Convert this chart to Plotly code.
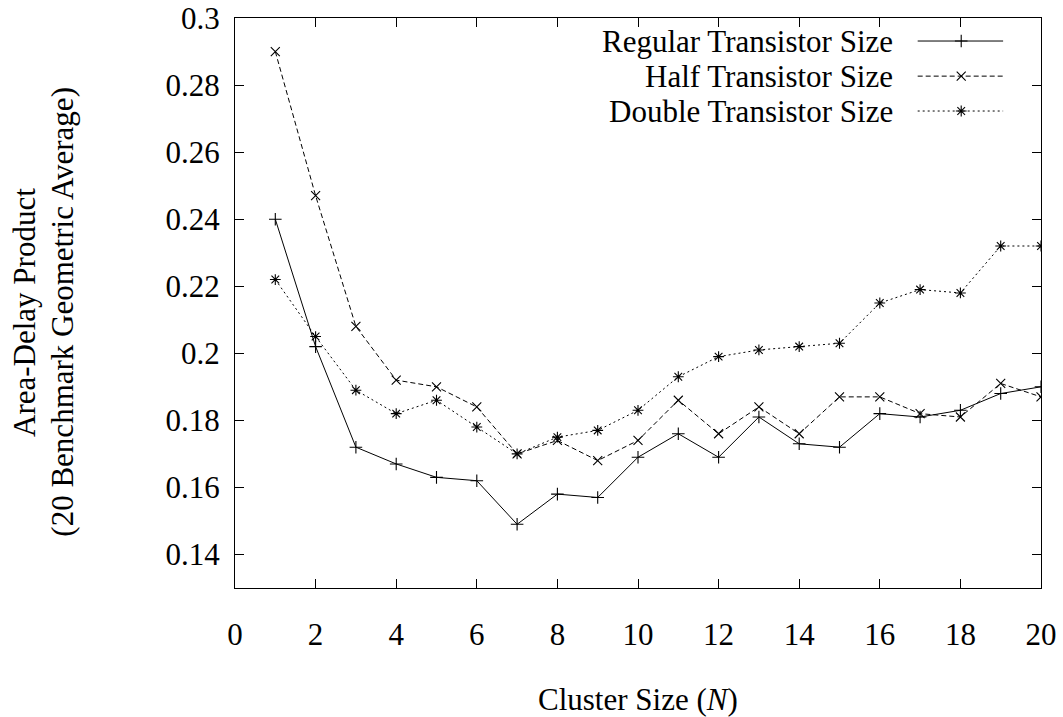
import plotly.graph_objects as go

# Cluster size N and area-delay product for each transistor sizing
cluster_size = list(range(1, 21))
regular = [0.240, 0.202, 0.172, 0.167, 0.163, 0.162, 0.149, 0.158, 0.157, 0.169,
           0.176, 0.169, 0.181, 0.173, 0.172, 0.182, 0.181, 0.183, 0.188, 0.190]
half = [0.290, 0.247, 0.208, 0.192, 0.190, 0.184, 0.170, 0.174, 0.168, 0.174,
        0.186, 0.176, 0.184, 0.176, 0.187, 0.187, 0.182, 0.181, 0.191, 0.187]
double = [0.222, 0.205, 0.189, 0.182, 0.186, 0.178, 0.170, 0.175, 0.177, 0.183,
          0.193, 0.199, 0.201, 0.202, 0.203, 0.215, 0.219, 0.218, 0.232, 0.232]

series_names = ["Regular Transistor Size", "Half Transistor Size", "Double Transistor Size"]
series_values = [regular, half, double]
dashes = ["solid", "5px,3px", "2px,3px"]
symbols = ["cross-thin", "x-thin", "asterisk"]

x_ticks = list(range(0, 21, 2))
y_ticks = [0.14, 0.16, 0.18, 0.2, 0.22, 0.24, 0.26, 0.28, 0.3]

y_title_lines = ["Area-Delay Product", "(20 Benchmark Geometric Average)"]

FONT = "Liberation Serif, Times New Roman, serif"
FS = 31
MARKER_SIZE = 9

fig = go.Figure()

for name, vals, dash, sym in zip(series_names, series_values, dashes, symbols):
    fig.add_trace(go.Scatter(
        x=cluster_size, y=vals, mode="lines+markers", name=name,
        line=dict(color="black", width=1, dash=dash),
        marker=dict(symbol=sym, size=MARKER_SIZE, color="black",
                    line=dict(color="black", width=1.1)),
        showlegend=False,
    ))

# gnuplot-style key: label on the left, line sample on the right,
# drawn on an overlay axis spanning the plot area in unit coordinates
key_rows = [0.9596, 0.898, 0.8368]
for name, dash, sym, ky in zip(series_names, dashes, symbols, key_rows):
    fig.add_trace(go.Scatter(
        x=[0.847, 0.953], y=[ky, ky], mode="lines", xaxis="x2", yaxis="y2",
        line=dict(color="black", width=1, dash=dash), showlegend=False,
        hoverinfo="skip",
    ))
    fig.add_trace(go.Scatter(
        x=[0.901], y=[ky], mode="markers", xaxis="x2", yaxis="y2",
        marker=dict(symbol=sym, size=MARKER_SIZE, color="black",
                    line=dict(color="black", width=1.1)),
        showlegend=False, hoverinfo="skip",
    ))
    fig.add_annotation(
        x=0.819, y=ky, xref="x2", yref="y2", text=name, showarrow=False,
        xanchor="right", yanchor="middle",
        font=dict(family=FONT, size=FS, color="black"),
    )

axis_common = dict(
    showline=True, linecolor="black", linewidth=1, mirror="ticks",
    ticks="inside", ticklen=9, tickwidth=1, tickcolor="black",
    showgrid=False, zeroline=False,
    tickfont=dict(family=FONT, size=FS, color="black"),
)

fig.update_layout(
    width=1063, height=717,
    margin=dict(l=235, r=22, t=18, b=129, autoexpand=False),
    paper_bgcolor="white", plot_bgcolor="white",
    showlegend=False,
    xaxis=dict(range=[0, 20], tickvals=x_ticks, ticktext=[str(v) for v in x_ticks],
               ticklabelstandoff=19, **axis_common),
    yaxis=dict(range=[0.13, 0.3], tickvals=y_ticks,
               ticktext=[f"{v:g}" for v in y_ticks],
               ticklabelstandoff=8, **axis_common),
    xaxis2=dict(range=[0, 1], overlaying="x", visible=False, fixedrange=True),
    yaxis2=dict(range=[0, 1], overlaying="y", visible=False, fixedrange=True),
)

fig.add_annotation(
    x=0.5, y=-0.196, xref="paper", yref="paper",
    text="Cluster Size (<i>N</i>)", showarrow=False,
    xanchor="center", yanchor="middle",
    font=dict(family=FONT, size=FS, color="black"),
)
# two-line rotated y-axis title, one annotation per line
for line, lx in zip(y_title_lines, [-0.262, -0.214]):
    fig.add_annotation(
        x=lx, y=0.484, xref="paper", yref="paper", text=line,
        textangle=-90, showarrow=False, xanchor="center", yanchor="middle",
        font=dict(family=FONT, size=FS, color="black"),
    )

fig.write_html("out.html")
